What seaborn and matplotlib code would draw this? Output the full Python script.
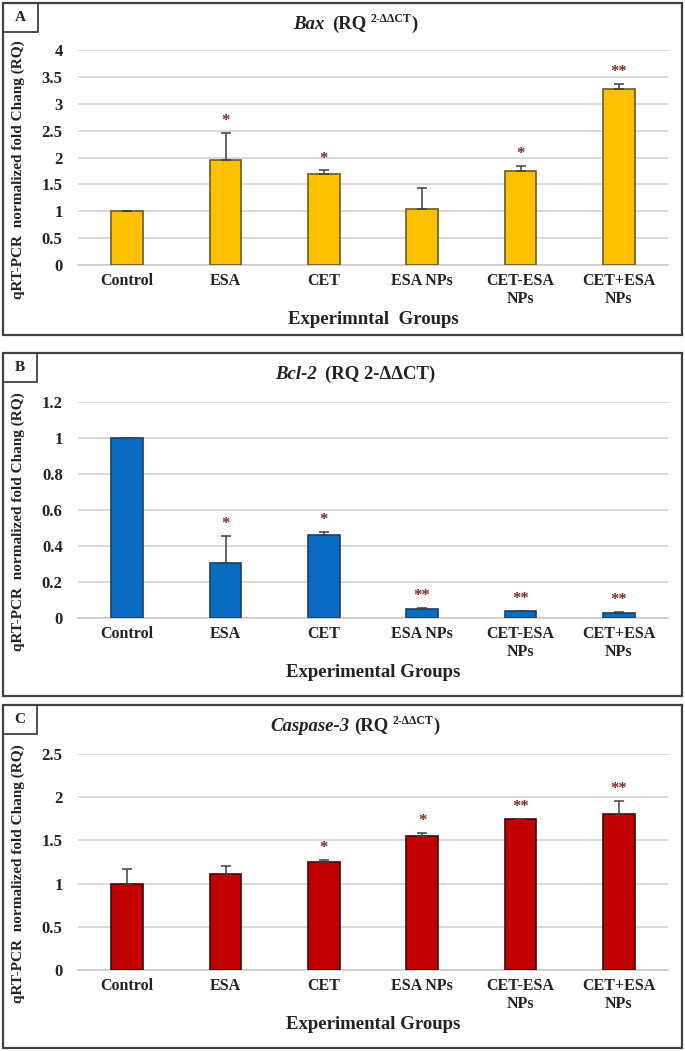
import matplotlib
matplotlib.use("Agg")
import matplotlib.pyplot as plt
import seaborn as sns
import numpy as np
from matplotlib.patches import Rectangle

sns.set_theme(style="white")
plt.rcParams['font.family'] = ['Liberation Serif', 'DejaVu Serif']

categories = ["Control", "ESA", "CET", "ESA NPs", "CET-ESA\nNPs", "CET+ESA\nNPs"]

bax_vals = [1.00, 1.95, 1.70, 1.04, 1.74, 3.27]
bax_err = [0.00, 0.51, 0.06, 0.40, 0.11, 0.10]
bax_sig = ["", "*", "*", "", "*", "**"]

bcl_vals = [1.00, 0.303, 0.46, 0.052, 0.039, 0.030]
bcl_err = [0.00, 0.153, 0.02, 0.005, 0.002, 0.003]
bcl_sig = ["", "*", "*", "**", "**", "**"]

cas_vals = [1.00, 1.106, 1.25, 1.554, 1.746, 1.80]
cas_err = [0.17, 0.094, 0.025, 0.036, 0.006, 0.156]
cas_sig = ["", "", "*", "*", "**", "**"]

# title pieces: (text, italic, superscript, gap_before_px)
bax_title = [("Bax", True, False, 0), ("(RQ", False, False, 8), ("2-ΔΔCT", False, True, 4), (")", False, False, 0)]
bcl_title = [("Bcl-2", True, False, 0), ("(RQ 2-ΔΔCT)", False, False, 8)]
cas_title = [("Caspase-3", True, False, 0), ("(RQ", False, False, 4), ("2-ΔΔCT", False, True, 4), (")", False, False, 0)]

panels = [
    dict(letter="A", vals=bax_vals, err=bax_err, sig=bax_sig, title=bax_title,
         xlabel="Experimntal  Groups", ylim=4, step=0.5,
         color="#FFC000", edge="#6B5A2A",
         box=(3, 3, 682, 335), lbox=(3, 3, 38, 32), axy=(50, 265), star_off=0.07),
    dict(letter="B", vals=bcl_vals, err=bcl_err, sig=bcl_sig, title=bcl_title,
         xlabel="Experimental Groups", ylim=1.2, step=0.2,
         color="#0A6BC2", edge="#1B3F6B",
         box=(3, 353, 682, 696), lbox=(3, 353, 37, 382), axy=(402, 618), star_off=0.02),
    dict(letter="C", vals=cas_vals, err=cas_err, sig=cas_sig, title=cas_title,
         xlabel="Experimental Groups", ylim=2.5, step=0.5,
         color="#C00000", edge="#3A0A0A",
         box=(3, 705, 682, 1048), lbox=(3, 705, 37, 734), axy=(754, 970), star_off=0.045),
]

W, H = 685, 1051
fig = plt.figure(figsize=(W / 100, H / 100), dpi=100)
fig.patch.set_facecolor("white")
renderer = fig.canvas.get_renderer()

def fx(px):
    return px / W

def fy(py):
    return 1 - py / H

def draw_title(pieces, xc, ybase):
    texts = []
    total = 0
    for txt, ital, sup, gap in pieces:
        t = fig.text(0, fy(ybase - (7 if sup else 0)), txt,
                     fontsize=8.5 if sup else 13.5, fontweight="bold",
                     fontstyle="italic" if ital else "normal",
                     ha="left", va="baseline", color="#222222")
        w = t.get_window_extent(renderer).width
        texts.append((t, gap, w))
        total += gap + w
    x = xc - total / 2
    for t, gap, w in texts:
        x += gap
        t.set_x(fx(x))
        x += w

for p in panels:
    x0, y0, x1, y1 = p["box"]
    fig.add_artist(Rectangle((fx(x0), fy(y1)), fx(x1 - x0), (y1 - y0) / H,
                             transform=fig.transFigure, fill=False,
                             edgecolor="#404040", linewidth=1.6))
    lx0, ly0, lx1, ly1 = p["lbox"]
    fig.add_artist(Rectangle((fx(lx0), fy(ly1)), fx(lx1 - lx0), (ly1 - ly0) / H,
                             transform=fig.transFigure, fill=False,
                             edgecolor="#404040", linewidth=1.3))
    fig.text(fx((lx0 + lx1) / 2), fy((ly0 + ly1) / 2), p["letter"], ha="center",
             va="center", fontsize=11, fontweight="bold", color="#222222")

    top, bot = p["axy"]
    ax = fig.add_axes([fx(78), fy(bot), fx(668 - 78), (bot - top) / H])
    sns.barplot(x=categories, y=p["vals"], color=p["color"], width=0.32,
                edgecolor=p["edge"], linewidth=1.2, saturation=1, ax=ax,
                errorbar=None, zorder=3)
    xs = np.arange(len(categories))
    ax.errorbar(xs, p["vals"], yerr=[np.zeros(len(xs)), p["err"]], fmt="none",
                ecolor="#404040", elinewidth=1.1, capsize=3.5, capthick=1.1, zorder=4)
    for xi, v, e, s in zip(xs, p["vals"], p["err"], p["sig"]):
        if s:
            ax.text(xi, v + e + p["star_off"], s, ha="center", va="bottom",
                    fontsize=12, fontweight="bold", color="#7A2A2A")
    ax.set_ylim(0, p["ylim"])
    ax.set_xlim(-0.5, len(categories) - 0.5)
    ticks = np.round(np.arange(0, p["ylim"] + 1e-9, p["step"]), 2)
    ax.set_yticks(ticks)
    ax.set_yticklabels([f"{t:g}" for t in ticks], fontsize=12, fontweight="bold")
    ax.set_xticks(xs)
    ax.set_xticklabels(categories, fontsize=11.5, fontweight="bold", linespacing=1.1)
    ax.tick_params(axis="both", length=0, pad=6, colors="#222222")
    ax.tick_params(axis="y", pad=11)
    ax.grid(axis="y", color="#D0D0D0", linewidth=1.1, zorder=0)
    ax.set_axisbelow(True)
    for side in ["top", "right", "left"]:
        ax.spines[side].set_visible(False)
    ax.spines["bottom"].set_color("#C8C8C8")
    ax.spines["bottom"].set_linewidth(1.1)
    ax.set_facecolor("white")
    ax.set_xlabel(p["xlabel"], fontsize=13.5, fontweight="bold", color="#222222", labelpad=3)
    ax.set_ylabel("")
    fig.text(fx(18), fy((top + bot) / 2 + 12), "qRT-PCR  normalized fold Chang (RQ)",
             rotation=90, ha="center", va="center", fontsize=11, fontweight="bold",
             color="#222222")
    draw_title(p["title"], 355, p["box"][1] + 26)

fig.savefig("out.png", dpi=100)
